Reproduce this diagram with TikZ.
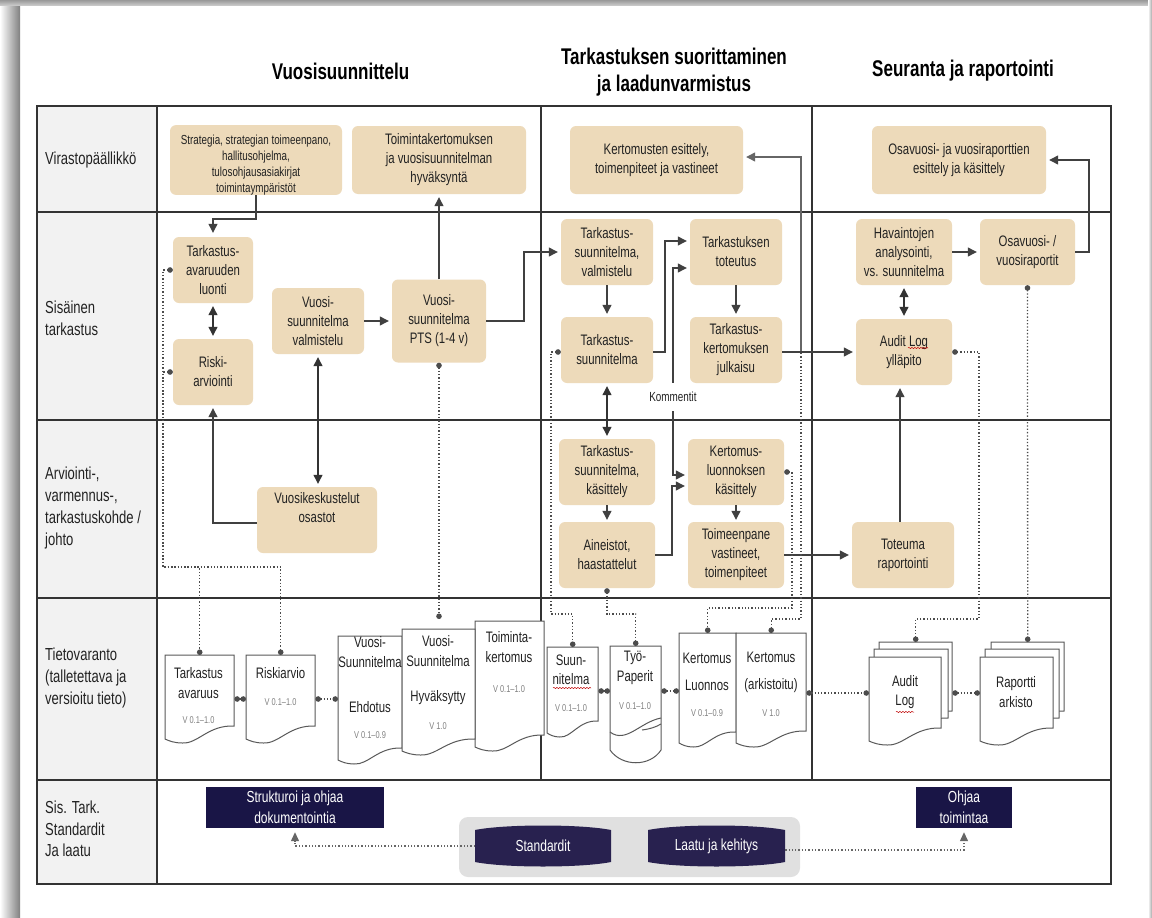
\documentclass[tikz,border=0pt]{standalone}
\usepackage{fontspec}
\setmainfont[FakeStretch=0.75]{Liberation Sans}
\usetikzlibrary{positioning, arrows.meta, calc, decorations.pathmorphing}

\definecolor{sand}{HTML}{EDDABA}
\definecolor{navy}{HTML}{191546}
\definecolor{barrel}{HTML}{28214F}
\definecolor{ink}{HTML}{222222}

\tikzset{
  procbox/.style={fill=sand, rounded corners=6pt, align=center, inner sep=0pt, text=ink,
    font=\fontsize{15.2}{19}\selectfont},
  lanelabel/.style={anchor=west, align=left, inner sep=0pt, text=ink,
    font=\fontsize{17.4}{21.7}\selectfont},
  headlabel/.style={align=center, inner sep=0pt, text=black,
    font=\fontsize{22.7}{27}\selectfont\bfseries},
  darkbox/.style={fill=navy, text=white, align=center, inner sep=0pt,
    font=\fontsize{16}{21}\selectfont},
  doctext/.style={align=center, inner sep=0pt, text=ink, font=\fontsize{15.2}{19.5}\selectfont},
  docver/.style={inner sep=0pt, text=gray, font=\fontsize{9.9}{11}\selectfont},
  flow/.style={draw=black!75, line width=1.2pt, -{Triangle[length=9pt,width=9pt]}},
  flowboth/.style={draw=black!80, line width=1.2pt, {Triangle[length=9pt,width=9pt]}-{Triangle[length=9pt,width=9pt]}},
  store/.style={draw=black!70, shorten >=0pt, line width=1.3pt, dash pattern=on 1.3pt off 2pt, {Circle[length=5.5pt]}-{Circle[length=5.5pt]}},
  refline/.style={draw=black!60, line width=1.3pt, dash pattern=on 1.3pt off 2pt, -{Triangle[length=9pt,width=8pt]}},
  lane/.style={draw=black!80, line width=1.3pt, shorten >=0pt},
  page/.style={draw=black!65, fill=white, line width=1pt, shorten >=0pt},
  squiggle/.style={draw=red!75!black, line width=.5pt, shorten >=0pt, decorate, decoration={snake, amplitude=.6pt, segment length=3pt}},
}

% name, x left, y top, x right, y wave left, y wave right
\newcommand{\docpage}[6]{
  \filldraw[page] (#2,#3) -- (#4,#3) -- (#4,#6)
    .. controls ({#2+0.62*(#4-#2)},{#6-1}) and ({#2+0.48*(#4-#2)},{#5+5}) .. ({#2+0.25*(#4-#2)},{#5+4})
    .. controls ({#2+0.14*(#4-#2)},{#5+4}) and ({#2+0.06*(#4-#2)},{#5+2}) .. (#2,#5) -- cycle;
  \node[inner sep=0pt, minimum width={(#4-#2)*1pt}, minimum height={(#6-#3)*1pt}, anchor=north west] (#1) at (#2,#3) {};
}
% name, x left, x right, text
\newcommand{\drum}[4]{
  \fill[barrel] (#2,830) .. controls ({#2+30},824) and ({#3-30},824) .. (#3,830) -- (#3,862)
    .. controls ({#3-30},868) and ({#2+30},868) .. (#2,862) -- cycle;
  \node[text=white, inner sep=0pt, font=\fontsize{16}{19}\selectfont, minimum width={(#3-#2)*1pt}, minimum height=42pt] (#1) at ({(#2+#3)/2},846) {#4};
}

\begin{document}
\begin{tikzpicture}[x=1pt,y=-1pt,shorten >=3pt,on grid]
  \useasboundingbox (0,0) rectangle (1152,918);

  % paper
  \fill[white] (0,0) rectangle (1152,918);
  \shade[left color=white, right color=black!50] (0,0) rectangle (20,918);
  \shade[top color=black!40, bottom color=black!22] (0,0) rectangle (1152,5);
  \shade[left color=white, right color=black!35] (1148,0) rectangle (1152,918);

  % lanes
  \fill[black!5] (37,106) rectangle (157,884);
  \draw[lane] (37,106) rectangle (1111,884);
  \draw[lane] (157,106) -- (157,884);
  \draw[lane] (541,106) -- (541,780);
  \draw[lane] (812,106) -- (812,780);
  \foreach \y in {212,420,598,780}
    \draw[lane, line width=1.1pt] (37,\y) -- (1111,\y);

  % headings
  \node[headlabel] (h_1) at (340.5,71) {Vuosisuunnittelu};
  \node[headlabel] (h_2) at (674,72.5) {Tarkastuksen suorittaminen\\ja laadunvarmistus};
  \node[headlabel] (h_3) at (963,71) {Seuranta ja raportointi};

  \node[lanelabel] (l_1) at (45,160) {Virastopäällikkö};
  \node[lanelabel] (l_2) at (45,318) {Sisäinen\\tarkastus};
  \node[lanelabel] (l_3) at (45,508) {Arviointi-,\\varmennus-,\\tarkastuskohde /\\johto};
  \node[lanelabel] (l_4) at (45,678) {Tietovaranto\\(talletettava ja\\versioitu tieto)};
  \node[lanelabel] (l_5) at (45,829) {Sis. Tark.\\Standardit\\Ja laatu};

  % process boxes, first column
  \node[procbox, minimum width=172pt, minimum height=68pt, font=\fontsize{13.1}{16}\selectfont] (strat) at (256,160) {\rule{0pt}{19pt}Strategia, strategian toimeenpano,\\hallitusohjelma,\\tulosohjausasiakirjat\\toimintaympäristöt};
  \node[procbox, minimum width=174pt, minimum height=68pt] (hyv) [right=183pt of strat] {Toimintakertomuksen\\ja vuosisuunnitelman\\hyväksyntä};
  \node[procbox, minimum width=80pt, minimum height=66pt] (avar) at (213,270) {Tarkastus-\\avaruuden\\luonti};
  \node[procbox, minimum width=80pt, minimum height=66pt] (riski) [below=102pt of avar] {Riski-\\arviointi};
  \node[procbox, minimum width=92pt, minimum height=66pt] (valm) at (318,321) {Vuosi-\\suunnitelma\\valmistelu};
  \node[procbox, minimum width=94pt, minimum height=83pt] (pts) at (439,321) {Vuosi-\\suunnitelma\\PTS (1-4 v)};
  \node[procbox, minimum width=120pt, minimum height=66pt] (keskus) at (317,520) {Vuosikeskustelut\\osastot\\\strut};

  % second column
  \node[procbox, minimum width=173pt, minimum height=68pt] (esit) at (656.5,160) {Kertomusten esittely,\\toimenpiteet ja vastineet};
  \node[procbox, minimum width=92pt, minimum height=66pt] (t_valm) at (607,252) {Tarkastus-\\suunnitelma,\\valmistelu};
  \node[procbox, minimum width=92pt, minimum height=66pt] (t_suun) [below=98pt of t_valm] {Tarkastus-\\suunnitelma};
  \node[procbox, minimum width=96pt, minimum height=66pt] (t_kas) [below=122pt of t_suun] {Tarkastus-\\suunnitelma,\\käsittely};
  \node[procbox, minimum width=96pt, minimum height=66pt] (aine) [below=83pt of t_kas] {Aineistot,\\haastattelut};
  \node[procbox, minimum width=92pt, minimum height=66pt] (tot) [right=129pt of t_valm] {Tarkastuksen\\toteutus};
  \node[procbox, minimum width=92pt, minimum height=66pt] (julk) [below=98pt of tot] {Tarkastus-\\kertomuksen\\julkaisu};
  \node[procbox, minimum width=96pt, minimum height=66pt] (luon) [below=122pt of julk] {Kertomus-\\luonnoksen\\käsittely};
  \node[procbox, minimum width=96pt, minimum height=66pt] (toim) [below=83pt of luon] {Toimeenpane\\vastineet,\\toimenpiteet};
  \node[inner xsep=0pt, inner ysep=9pt, text=ink, font=\fontsize{13.2}{15}\selectfont] (komm) at (673,397) {Kommentit};

  % third column
  \node[procbox, minimum width=174pt, minimum height=68pt] (osa_e) at (959,160) {Osavuosi- ja vuosiraporttien\\esittely ja käsittely};
  \node[procbox, minimum width=96pt, minimum height=66pt] (hav) at (904,252) {Havaintojen\\analysointi,\\vs. suunnitelma};
  \node[procbox, minimum width=95pt, minimum height=66pt] (osa) [right=123.5pt of hav] {Osavuosi- /\\vuosiraportit};
  \node[procbox, minimum width=96pt, minimum height=66pt] (audit) [below=100pt of hav] {Audit Log\\ylläpito};
  \node[procbox, minimum width=102pt, minimum height=66pt] (tote) at (903,555) {Toteuma\\raportointi};

  % documents
  \docpage{d_avar}{165}{655}{234}{739}{726}
  \docpage{d_risk}{246}{655}{315}{739}{726}
  \docpage{d_ehd}{338}{636}{402}{760}{748}
  \docpage{d_toim}{475}{621}{544}{747}{735}
  \docpage{d_hyv}{402}{629}{475}{751}{739}
  \docpage{d_suun}{547}{647}{598}{733}{721}
  \filldraw[page] (610,646) -- (661,646) -- (661,750) .. controls (650,767) and (622,767) .. (610,750) -- cycle;
  \draw[page, fill=none] (610,732) .. controls (626,744) and (640,722) .. (661,718);
  \draw[page, fill=none] (642,730) .. controls (650,729) and (656,727) .. (661,724);
  \node[inner sep=0pt, minimum width=51pt, minimum height=74pt, anchor=north west] (d_tyo) at (610,646) {};
  \docpage{d_luon}{679}{633}{736}{743}{732}
  \docpage{d_ark}{736}{633}{806}{743}{731}
  \docpage{d_log2}{879}{642}{952}{730}{711}
  \docpage{d_log1}{874}{649}{948}{735}{718}
  \docpage{d_log}{869}{657}{941}{741}{728}
  \docpage{d_rap2}{991}{642}{1064}{730}{711}
  \docpage{d_rap1}{985}{649}{1059}{735}{718}
  \docpage{d_rap}{980}{657}{1053}{741}{728}

  \node[doctext] (x_1) at (198.5,683) {Tarkastus\\avaruus};
  \node[docver] (v_1) at (198.5,720) {V 0.1–1.0};
  \node[doctext] (x_2) at (280.5,673) {Riskiarvio};
  \node[docver] (v_2) at (280.5,702) {V 0.1–1.0};
  \node[doctext] (x_3) at (370,652) {Vuosi-\\Suunnitelma};
  \node[doctext] (x_3b) at (370,707) {Ehdotus};
  \node[docver] (v_3) at (370,735) {V 0.1–0.9};
  \node[doctext] (x_4) at (438,651) {Vuosi-\\Suunnitelma};
  \node[doctext] (x_4b) at (438,698) {Hyväksytty};
  \node[docver] (v_4) at (438,726) {V 1.0};
  \node[doctext] (x_5) at (509,647) {Toiminta-\\kertomus};
  \node[docver] (v_5) at (509,689) {V 0.1–1.0};
  \node[doctext] (x_6) at (571,670) {Suun-\\nitelma};
  \node[docver] (v_6) at (571,708) {V 0.1–1.0};
  \node[doctext] (x_7) at (635,668) {Työ-\\Paperit};
  \node[docver] (v_7) at (635,706) {V 0.1–1.0};
  \node[doctext] (x_8) at (707,672) [align=center, font=\fontsize{15.2}{27}\selectfont] {Kertomus\\Luonnos};
  \node[docver] (v_8) at (707,713) {V 0.1–0.9};
  \node[doctext] (x_9) at (771,672) [align=center, font=\fontsize{15.2}{27}\selectfont] {Kertomus\\(arkistoitu)};
  \node[docver] (v_9) at (771,713) {V 1.0};
  \node[doctext] (x_10) at (905,692) {Audit\\Log};
  \node[doctext] (x_11) at (1016,692) {Raportti\\arkisto};

  \draw[squiggle] (553,688) -- (591,688);
  \draw[squiggle] (896,712) -- (914,712);
  \draw[squiggle] (908,348) -- (928,348);

  % standards
  \node[darkbox, minimum width=178pt, minimum height=41pt] (struk) at (295,807.5) {Strukturoi ja ohjaa\\dokumentointia};
  \node[darkbox, minimum width=96pt, minimum height=41pt] (ohjaa) at (964,807.5) {Ohjaa\\toimintaa};
  \fill[black!12, rounded corners=9pt] (459,817) rectangle (800,877);
  \drum{std}{475}{611}{Standardit}
  \drum{laatu}{648}{785}{Laatu ja kehitys}

  % flows, first column
  \draw[flow, shorten >=4pt] (strat.south) -- ++(0,24) -| (avar.north);
  \path (pts.north) edge[flow] (hyv.south);
  \path (avar.south) edge[flowboth, shorten <=3pt] (riski.north);
  \path (valm.south) edge[flowboth, shorten <=3pt] (valm.south |- keskus.north);
  \draw[flow] (keskus.west |- 0,523) -| (riski.south);
  \path (valm.east) edge[flow] (pts.west);
  \draw[flow] (pts.east) -- (524,321) |- (t_valm.west);

  % flows, second column
  \path (t_valm.south) edge[flow] (t_suun.north);
  \draw[flow] ([yshift=-2pt]t_suun.east) -- (665,352) |- ([yshift=11pt]tot.west);
  \draw[flow] (komm.north) |- ([yshift=-16pt]tot.west);
  \draw[flow] (komm.south) |- ([yshift=-3pt]luon.west);
  \draw[flow] (aine.east) -- (672,555) |- ([yshift=-14pt]luon.west);
  \path (t_suun.south) edge[flowboth, shorten <=3pt] (t_kas.north);
  \path (t_kas.south) edge[flow, shorten >=2pt] (aine.north);
  \path (tot.south) edge[flow] (julk.north);
  \path (luon.south) edge[flow, shorten >=2pt] (toim.north);
  \draw[flow, draw=black!60] (801,353) |- (esit.east |- 0,157);
  \draw[flow] (julk.east |- audit.west) -- (audit.west);
  \draw[flow] (toim.east) -- (tote.west);

  % flows, third column
  \path (tote.north -| 900,0) edge[flow] (audit.south -| 900,0);
  \path (hav.south) edge[flowboth, shorten <=3pt] (audit.north);
  \path (hav.east) edge[flow] (osa.west);
  \draw[flow] (osa.east) -- (1089,252) |- (osa_e.east);

  % store links
  \draw[store] (avar.west) -- (163,270) -- (163,567) -| (d_avar.north);
  \draw[store] (riski.west) -- (163,372) -- (163,567) -| (d_risk.north);
  \draw[store, shorten >=10pt] (pts.south) -- (pts.south |- d_hyv.north);
  \draw[store] (d_avar.east |- 0,699) -- (d_risk.west |- 0,699);
  \draw[store] (d_risk.east |- 0,699) -- (d_ehd.west |- 0,699);
  \draw[store] ([yshift=-2pt]t_suun.west) -- (551,352) -- (551,614) -| (d_suun.north);
  \draw[store] (aine.south) -- (607,614) -| (d_tyo.north);
  \draw[store] (luon.east) -- (792,472) -- (792,608) -| (d_luon.north);
  \draw[store, {Circle[length=0pt]}-{Circle[length=5.5pt]}] (801,353) -- (801,619) -| (d_ark.north);
  \draw[store] (audit.east) -- (979,352) -- (979,619) -| (d_log2.north);
  \draw[store] (osa.south) -- (d_rap2.north);
  \draw[store] (d_suun.east |- 0,691) -- (d_tyo.west |- 0,691);
  \draw[store] (d_tyo.east |- 0,691) -- (d_luon.west |- 0,691);
  \draw[store] (d_ark.east |- 0,693) -- (d_log.west |- 0,693);
  \draw[store] (d_log2.east |- 0,693) -- (d_rap.west |- 0,693);

  % standards links
  \draw[refline, shorten >=4pt] (std.west) -| (struk.south);
  \draw[refline, shorten >=4pt] (laatu.east) ++(0,4) -| (ohjaa.south);
\end{tikzpicture}
\end{document}
